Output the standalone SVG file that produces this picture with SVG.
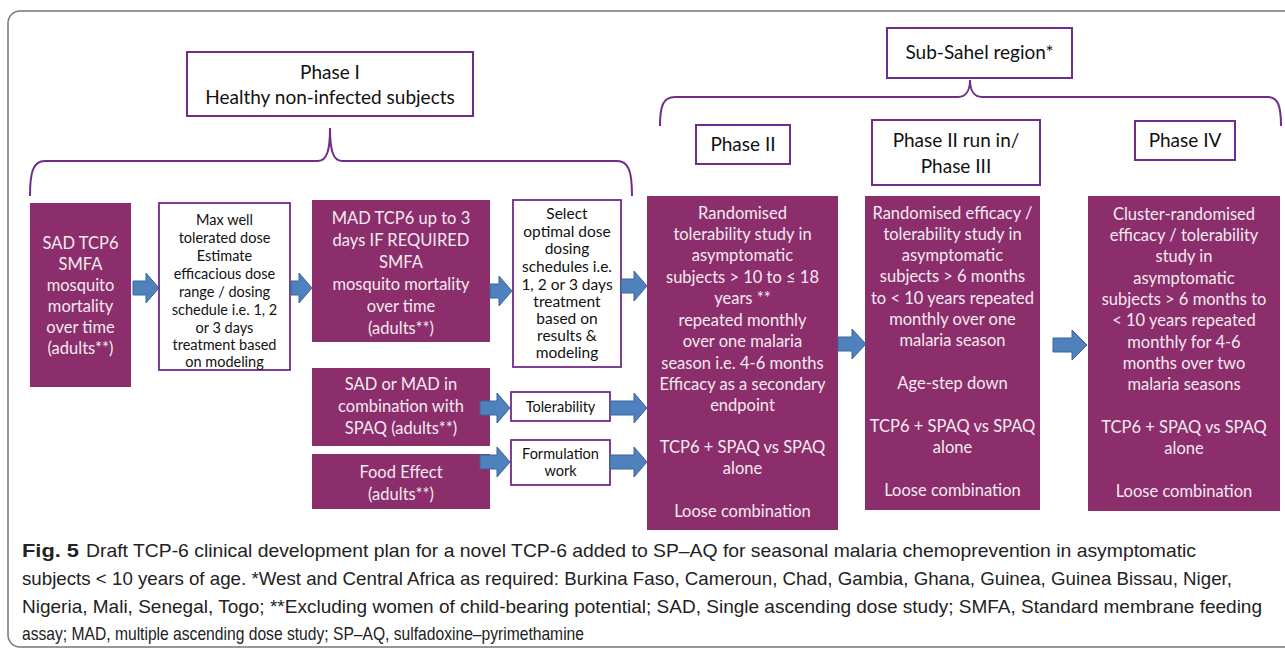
<svg xmlns="http://www.w3.org/2000/svg" width="1285" height="649" viewBox="0 0 1285 649">
<defs>
<style>
.frame{fill:#fff;stroke:#777;stroke-width:1.5}
.hdr{fill:#fff;stroke:#6F2C8C;stroke-width:2}
.wb{fill:#fff;stroke:#6F2C8C;stroke-width:1.8}
.pb{fill:#8B2E6B}
.brace{fill:none;stroke:#6F2C8C;stroke-width:2}
.arr{fill:#4F81BD;stroke:#3A64A0;stroke-width:1}
.ht{font-family:Lato,"Open Sans",sans-serif;font-size:19px;fill:#111;text-anchor:middle}
.pt{font-family:Lato,"Open Sans",sans-serif;font-size:16.5px;fill:#F4EAF0;text-anchor:middle}
.wt{font-family:Lato,"Open Sans",sans-serif;font-size:14.5px;fill:#111;text-anchor:middle}
.st{font-size:15.5px}
.cap{font-family:"Liberation Sans",Arial,sans-serif;font-size:18.5px;fill:#222}
.capb{font-weight:bold;font-size:18.5px}
</style>
</defs>
<rect class="frame" x="8" y="11" width="1300" height="636" rx="12"/>

<g id="braces">
<path class="brace" d="M30,196 C30,172 33,161 45,161 L318,161 C327,161 330,150 330,128 C330,150 333,161 342,161 L617,161 C629,161 632,172 632,196"/>
<path class="brace" d="M660,126 C660,106 663,97 675,97 L958,97 C966,97 970,90 970,80 C970,90 974,97 982,97 L1268,97 C1278,97 1281,106 1281,126"/>
</g>

<g id="phase1-header"><rect class="hdr" x="187" y="52" width="286" height="64"/>
<text class="ht" x="330" y="79">Phase I</text>
<text class="ht" x="330" y="104">Healthy non-infected subjects</text></g>

<g id="subsahel-header"><rect class="hdr" x="887" y="28" width="185" height="50"/>
<text class="ht" x="979.5" y="59">Sub-Sahel region*</text></g>

<g id="phase2-header"><rect class="hdr" x="696" y="125" width="94" height="39"/>
<text class="ht" x="743" y="151">Phase II</text></g>

<g id="phase3-header"><rect class="hdr" x="872" y="120" width="168" height="65"/>
<text class="ht" x="956" y="147">Phase II run in/</text>
<text class="ht" x="956" y="173">Phase III</text></g>

<g id="phase4-header"><rect class="hdr" x="1135" y="121" width="100" height="39"/>
<text class="ht" x="1185" y="147">Phase IV</text></g>

<g id="sad"><rect class="pb" x="30" y="203" width="101" height="184"/>
<text class="pt" x="80.5" y="249">SAD TCP6</text>
<text class="pt" x="80.5" y="270">SMFA</text>
<text class="pt" x="80.5" y="291">mosquito</text>
<text class="pt" x="80.5" y="312">mortality</text>
<text class="pt" x="80.5" y="333">over time</text>
<text class="pt" x="80.5" y="354">(adults**)</text></g>

<g id="maxwell"><rect class="wb" x="159" y="203" width="131" height="167"/>
<text class="wt" x="224.5" y="225">Max well</text>
<text class="wt" x="224.5" y="243">tolerated dose</text>
<text class="wt" x="224.5" y="261">Estimate</text>
<text class="wt" x="224.5" y="279">efficacious dose</text>
<text class="wt" x="224.5" y="297">range / dosing</text>
<text class="wt" x="224.5" y="315">schedule i.e. 1, 2</text>
<text class="wt" x="224.5" y="333">or 3 days</text>
<text class="wt" x="224.5" y="350">treatment based</text>
<text class="wt" x="224.5" y="367">on modeling</text></g>

<g id="mad"><rect class="pb" x="312" y="200" width="178" height="142"/>
<text class="pt" x="401" y="224">MAD TCP6 up to 3</text>
<text class="pt" x="401" y="246">days IF REQUIRED</text>
<text class="pt" x="401" y="268">SMFA</text>
<text class="pt" x="401" y="290">mosquito mortality</text>
<text class="pt" x="401" y="312">over time</text>
<text class="pt" x="401" y="334">(adults**)</text></g>

<g id="select"><rect class="wb" x="513" y="200" width="108" height="167"/>
<text class="wt st" x="567" y="219">Select</text>
<text class="wt st" x="567" y="237">optimal dose</text>
<text class="wt st" x="567" y="254">dosing</text>
<text class="wt st" x="567" y="272">schedules i.e.</text>
<text class="wt st" x="567" y="290">1, 2 or 3 days</text>
<text class="wt st" x="567" y="307">treatment</text>
<text class="wt st" x="567" y="324">based  on</text>
<text class="wt st" x="567" y="341">results &amp;</text>
<text class="wt st" x="567" y="358">modeling</text></g>

<g id="sadmad"><rect class="pb" x="312" y="368" width="178" height="78"/>
<text class="pt" x="401" y="390">SAD or MAD in</text>
<text class="pt" x="401" y="412">combination with</text>
<text class="pt" x="401" y="434">SPAQ (adults**)</text></g>

<g id="tolerability"><rect class="wb" x="511" y="392" width="99" height="29"/>
<text class="wt" x="560.5" y="412">Tolerability</text></g>

<g id="food"><rect class="pb" x="312" y="454" width="178" height="55"/>
<text class="pt" x="401" y="478">Food Effect</text>
<text class="pt" x="401" y="500">(adults**)</text></g>

<g id="formulation"><rect class="wb" x="511" y="440" width="99" height="45"/>
<text class="wt" x="560.5" y="459">Formulation</text>
<text class="wt" x="560.5" y="476">work</text></g>

<g id="phase2"><rect class="pb" x="647" y="196" width="191" height="334"/>
<text class="pt" x="742.5" y="219">Randomised</text>
<text class="pt" x="742.5" y="240">tolerability study in</text>
<text class="pt" x="742.5" y="261">asymptomatic</text>
<text class="pt" x="742.5" y="283">subjects &gt; 10 to ≤ 18</text>
<text class="pt" x="742.5" y="304">years **</text>
<text class="pt" x="742.5" y="326">repeated monthly</text>
<text class="pt" x="742.5" y="347">over one malaria</text>
<text class="pt" x="742.5" y="369">season i.e. 4-6 months</text>
<text class="pt" x="742.5" y="390">Efficacy as a secondary</text>
<text class="pt" x="742.5" y="411">endpoint</text>
<text class="pt" x="742.5" y="453">TCP6 + SPAQ vs SPAQ</text>
<text class="pt" x="742.5" y="474">alone</text>
<text class="pt" x="742.5" y="517">Loose combination</text></g>

<g id="phase3"><rect class="pb" x="865" y="196" width="175" height="314"/>
<text class="pt" x="952.5" y="219">Randomised efficacy /</text>
<text class="pt" x="952.5" y="240">tolerability study in</text>
<text class="pt" x="952.5" y="261">asymptomatic</text>
<text class="pt" x="952.5" y="282">subjects  &gt; 6 months</text>
<text class="pt" x="952.5" y="304">to &lt; 10 years repeated</text>
<text class="pt" x="952.5" y="325">monthly over one</text>
<text class="pt" x="952.5" y="346">malaria season</text>
<text class="pt" x="952.5" y="389">Age-step down</text>
<text class="pt" x="952.5" y="432">TCP6 + SPAQ vs SPAQ</text>
<text class="pt" x="952.5" y="453">alone</text>
<text class="pt" x="952.5" y="496">Loose combination</text></g>

<g id="phase4"><rect class="pb" x="1088" y="196" width="192" height="315"/>
<text class="pt" x="1184" y="220">Cluster-randomised</text>
<text class="pt" x="1184" y="241">efficacy / tolerability</text>
<text class="pt" x="1184" y="262">study  in</text>
<text class="pt" x="1184" y="284">asymptomatic</text>
<text class="pt" x="1184" y="305">subjects &gt; 6 months to</text>
<text class="pt" x="1184" y="326">&lt; 10 years  repeated</text>
<text class="pt" x="1184" y="348">monthly for 4-6</text>
<text class="pt" x="1184" y="369">months over two</text>
<text class="pt" x="1184" y="390">malaria seasons</text>
<text class="pt" x="1184" y="433">TCP6 + SPAQ vs SPAQ</text>
<text class="pt" x="1184" y="454">alone</text>
<text class="pt" x="1184" y="497">Loose combination</text></g>

<g id="connectors">
<path class="arr" d="M133,281 L146,281 L146,273 L159,288 L146,303 L146,295 L133,295 Z"/>
<path class="arr" d="M291,281 L299,281 L299,273 L312,288 L299,303 L299,295 L291,295 Z"/>
<path class="arr" d="M490,284 L499,284 L499,276 L512,291 L499,306 L499,298 L490,298 Z"/>
<path class="arr" d="M621,279 L634,279 L634,271 L647,286 L634,301 L634,293 L621,293 Z"/>
<path class="arr" d="M480,401 L497,401 L497,393 L510,408 L497,423 L497,415 L480,415 Z"/>
<path class="arr" d="M610,401 L634,401 L634,393 L647,408 L634,423 L634,415 L610,415 Z"/>
<path class="arr" d="M480,455 L497,455 L497,447 L510,462 L497,477 L497,469 L480,469 Z"/>
<path class="arr" d="M610,455 L634,455 L634,447 L647,462 L634,477 L634,469 L610,469 Z"/>
<path class="arr" d="M838,337 L852,337 L852,329 L866,344 L852,359 L852,351 L838,351 Z"/>
<path class="arr" d="M1053,338 L1072,338 L1072,330 L1087,345 L1072,360 L1072,352 L1053,352 Z"/>
</g>

<g id="caption">
<text class="cap" x="22" y="557" textLength="57" lengthAdjust="spacingAndGlyphs"><tspan class="capb">Fig. 5</tspan></text>
<text class="cap" x="86" y="557" textLength="1110" lengthAdjust="spacingAndGlyphs">Draft TCP-6 clinical development plan for a novel TCP-6 added to SP–AQ for seasonal malaria chemoprevention in asymptomatic</text>
<text class="cap" x="22" y="585" textLength="1210" lengthAdjust="spacingAndGlyphs">subjects &lt; 10 years of age. *West and Central Africa as required: Burkina Faso, Cameroun, Chad, Gambia, Ghana, Guinea, Guinea Bissau, Niger,</text>
<text class="cap" x="22" y="613" textLength="1240" lengthAdjust="spacingAndGlyphs">Nigeria, Mali, Senegal, Togo; **Excluding women of child-bearing potential; SAD, Single ascending dose study; SMFA, Standard membrane feeding</text>
<text class="cap" x="22" y="640" textLength="562" lengthAdjust="spacingAndGlyphs">assay; MAD, multiple ascending dose study; SP–AQ, sulfadoxine–pyrimethamine</text>
</g>
</svg>
